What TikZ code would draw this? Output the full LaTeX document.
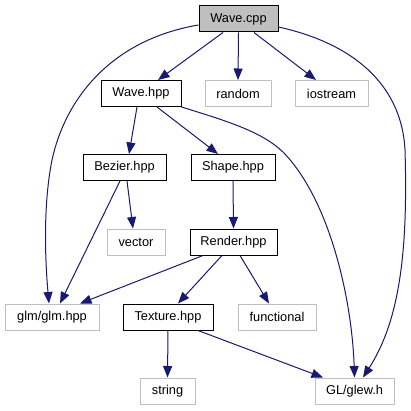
\documentclass[tikz,border=0pt]{standalone}
\usepackage{fontspec}
\setmainfont{Liberation Sans}
\usetikzlibrary{arrows.meta,calc}
\definecolor{gryb}{RGB}{191,191,191}
\definecolor{navy}{RGB}{25,25,112}
\newcommand{\nfont}{\fontsize{12.8}{15}\selectfont}
\tikzset{
  basebox/.style={rectangle, minimum height=26pt, inner sep=0pt, font=\nfont, line width=1pt},
  blk/.style={basebox, draw=black},
  gry/.style={basebox, draw=gryb},
  cppbox/.style={basebox, draw=black, fill=gryb},
  edge/.style={draw=navy, line width=1pt, -{Triangle[length=11.5pt,width=9pt]}, navy}
}
\begin{document}
\begin{tikzpicture}[x=1pt,y=-1pt]
\useasboundingbox (0,0) rectangle (411,411);
\fill[white] (0,0) rectangle (411,411);
\node[cppbox, minimum width=79pt] (cpp) at (238.5,19) {Wave.cpp};
\node[blk, minimum width=80pt] (whpp) at (141,93.5) {Wave.hpp};
\node[gry, minimum width=66pt] (rand) at (238,93.5) {random};
\node[gry, minimum width=73pt] (ios) at (331.5,93.5) {iostream};
\node[blk, minimum width=83pt] (bez) at (124.5,167.5) {Bezier.hpp};
\node[blk, minimum width=84pt] (shape) at (233,167.5) {Shape.hpp};
\node[gry, minimum width=58pt] (vec) at (136,242) {vector};
\node[blk, minimum width=87pt] (rend) at (233.5,242) {Render.hpp};
\node[gry, minimum width=94pt] (glm) at (52,317) {glm/glm.hpp};
\node[blk, minimum width=90pt] (tex) at (168,317) {Texture.hpp};
\node[gry, minimum width=78pt] (func) at (277,317) {functional};
\node[gry, minimum width=55pt] (str) at (167.5,391) {string};
\node[gry, minimum width=79pt] (glew) at (354.5,391) {GL/glew.h};

\draw[edge] ($(cpp.south)+(-15.5,0)$) -- ($(whpp.north)+(17,0)$);
\draw[edge] (cpp.south) -- (rand.north);
\draw[edge] ($(cpp.south)+(15.5,0)$) -- ($(ios.north)+(-15.5,0)$);
\draw[edge] ($(cpp.west)+(0,6)$) .. controls (110,40) and (65,100) .. (52,160)
   .. controls (42,210) and (46,270) .. ($(glm.north)+(-3,0)$);
\draw[edge] ($(cpp.east)+(0,8)$) .. controls (360,45) and (402,90) .. (405,150)
   .. controls (408,250) and (400,320) .. ($(glew.north)+(8.5,0)$);
\draw[edge] ($(whpp.south)+(-4,0)$) -- ($(bez.north)+(4.5,0)$);
\draw[edge] ($(whpp.south)+(16,0)$) -- ($(shape.north)+(-15,0)$);
\draw[edge] (whpp.south east) .. controls (230,122) and (262,132) .. (283,152)
   .. controls (330,200) and (352,300) .. (glew.north);
\draw[edge] ($(bez.south)+(2.5,0)$) -- ($(vec.north)+(-3,0)$);
\draw[edge] ($(bez.south)+(-4.5,0)$) -- ($(glm.north)+(8,0)$);
\draw[edge] (shape.south) -- (rend.north);
\draw[edge] ($(rend.south)+(-30.5,0)$) -- ($(glm.north)+(28,0)$);
\draw[edge] ($(rend.south)+(-11.5,0)$) -- ($(tex.north)+(10,0)$);
\draw[edge] ($(rend.south)+(6.5,0)$) -- ($(func.north)+(-8,0)$);
\draw[edge] (tex.south) -- (str.north);
\draw[edge] ($(tex.south)+(30,0)$) -- ($(glew.north)+(-31.5,0)$);
\end{tikzpicture}
\end{document}
